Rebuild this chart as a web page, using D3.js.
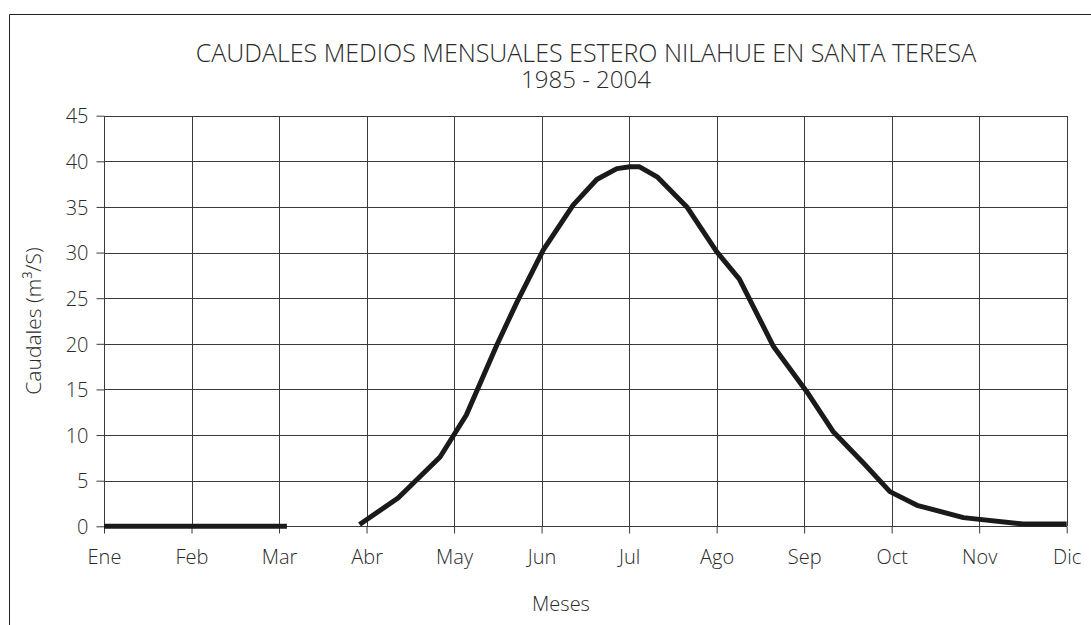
<!DOCTYPE html>
<html>
<head>
<meta charset="utf-8">
<script src="https://cdn.jsdelivr.net/npm/d3@7"></script>
<style>
  html, body { margin: 0; padding: 0; background: #fff; overflow: hidden; }
  svg { display: block; }
  text { font-family: "Open Sans", Lato, sans-serif; font-weight: 300; fill: #2a2a2a; }
</style>
</head>
<body>
<script>
// ---- data ----
const months = ["Ene","Feb","Mar","Abr","May","Jun","Jul","Ago","Sep","Oct","Nov","Dic"];
const yTicks = [0,5,10,15,20,25,30,35,40,45];
const titleLines = ["CAUDALES MEDIOS MENSUALES ESTERO NILAHUE EN SANTA TERESA", "1985 - 2004"];
const xLabel = "Meses";
const yLabel = "Caudales (m³/S)";
// segment 1 (summer, no flow)
const seg1Pos = [0, 2.09];
const seg1Val = [0, 0];
// segment 2 (month position, mean flow m3/s)
const seg2Pos = [2.92, 3.36, 3.84, 4.14, 4.49, 4.72, 5.02, 5.36, 5.63, 5.86, 6.01, 6.12, 6.32, 6.66, 7.0, 7.26, 7.65, 8.03, 8.33, 8.68, 8.98, 9.29, 9.82, 10.5, 11];
const seg2Val = [0.2, 3.1, 7.6, 12.2, 19.9, 24.6, 30.3, 35.2, 38.0, 39.2, 39.4, 39.4, 38.3, 35.0, 30.1, 27.1, 19.7, 14.75, 10.4, 6.9, 3.8, 2.3, 0.95, 0.25, 0.25];

(function () {
// ---- layout ----
const W = 1091, H = 625;
const pL = 104, pR = 1066.7, pT = 115.7, pB = 526.3;

const svg = d3.select("body").append("svg").attr("width", W).attr("height", H);

// frame (clipped by viewport on right and bottom)
svg.append("path").attr("d", "M9.5,625 V14.5 H1091")
  .attr("fill", "none").attr("stroke", "#222").attr("stroke-width", 1);

const x = d3.scaleLinear().domain([0, 11]).range([pL, pR]);
const y = d3.scaleLinear().domain([0, 45]).range([pB, pT]);

// grid
const grid = svg.append("g").attr("stroke", "#3a3a3a").attr("stroke-width", 1).attr("shape-rendering", "crispEdges");
grid.selectAll("line.h").data(yTicks).join("line").attr("class", "h")
  .attr("x1", pL).attr("x2", pR).attr("y1", d => Math.round(y(d)) + 0.5).attr("y2", d => Math.round(y(d)) + 0.5);
grid.selectAll("line.v").data(d3.range(months.length)).join("line").attr("class", "v")
  .attr("y1", pT).attr("y2", pB).attr("x1", d => Math.round(x(d)) + 0.5).attr("x2", d => Math.round(x(d)) + 0.5);

// y axis
const yAxis = svg.append("g").attr("transform", `translate(${Math.round(pL) + 0.5},0)`)
  .call(d3.axisLeft(y).tickValues(yTicks).tickSize(8).tickPadding(8));
yAxis.select(".domain").remove();
yAxis.selectAll("line").attr("stroke", "#3a3a3a");
yAxis.selectAll("text").style("font-size", "20px").attr("fill", "#2a2a2a").attr("dy", "0.36em");

// x axis
const xAxis = svg.append("g").attr("transform", `translate(0,${Math.round(pB) + 0.5})`)
  .call(d3.axisBottom(x).tickValues(d3.range(months.length)).tickFormat(i => months[i]).tickSize(7));
xAxis.select(".domain").remove();
xAxis.selectAll("line").attr("stroke", "#3a3a3a");
xAxis.selectAll("text").style("font-size", "20px").attr("fill", "#2a2a2a").attr("y", 37).attr("dy", 0);

// lines
const line = d3.line().x(d => x(d[0])).y(d => y(d[1]));
svg.append("path").datum(seg1Pos.map((p, i) => [p, seg1Val[i]]))
  .attr("d", line).attr("fill", "none").attr("stroke", "#1a1a1a").attr("stroke-width", 5);
svg.append("path").datum(seg2Pos.map((p, i) => [p, seg2Val[i]]))
  .attr("d", line).attr("fill", "none").attr("stroke", "#1a1a1a").attr("stroke-width", 5).attr("stroke-linejoin", "round");

// title (one text element, two lines)
const title = svg.append("text").attr("text-anchor", "middle").style("font-size", "25px");
title.append("tspan").attr("x", 586).attr("y", 62).text(titleLines[0]);
title.append("tspan").attr("x", 586).attr("y", 88).style("font-size", "24px").text(titleLines[1]);

svg.append("text").attr("x", 561).attr("y", 611).attr("text-anchor", "middle").style("font-size", "20px").text(xLabel);
svg.append("text").attr("transform", "translate(41,321) rotate(-90)").attr("text-anchor", "middle").style("font-size", "21px").text(yLabel);
})();
</script>
</body>
</html>
